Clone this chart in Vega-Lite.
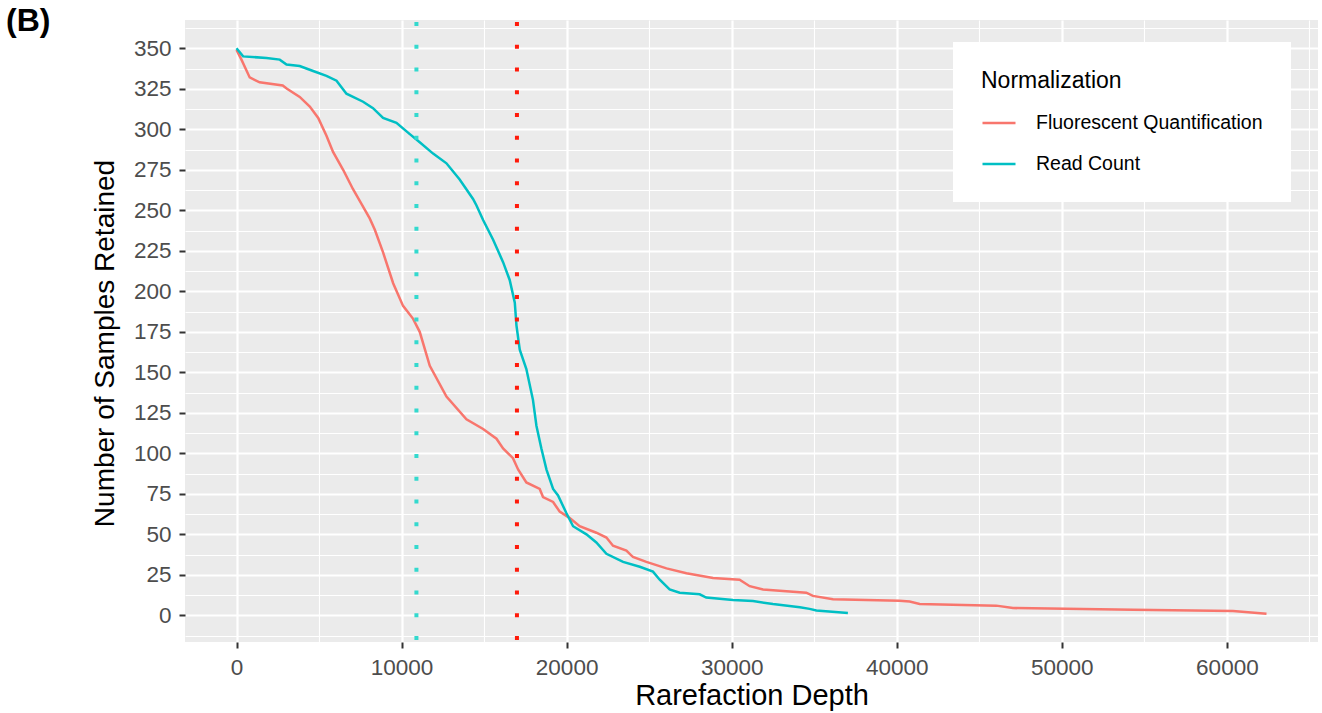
{
  "$schema": "https://vega.github.io/schema/vega-lite/v6.json",
  "width": 1133,
  "height": 622,
  "autosize": {"type": "none"},
  "padding": {"left": 185, "top": 20, "right": 4, "bottom": 71},
  "background": "white",
  "config": {
    "font": "Liberation Sans",
    "view": {"fill": "#EBEBEB", "stroke": null}
  },
  "title": {
    "text": "(B)",
    "anchor": "start",
    "frame": "group",
    "fontSize": 32,
    "fontWeight": "bold",
    "color": "black",
    "offset": -46,
    "dx": -179,
    "baseline": "alphabetic"
  },
  "encoding": {
    "x": {
      "field": "depth",
      "type": "quantitative",
      "title": "Rarefaction Depth",
      "scale": {"domain": [-3120, 65520], "nice": false, "zero": false},
      "axis": {
        "values": [0, 5000, 10000, 15000, 20000, 25000, 30000, 35000, 40000, 45000, 50000, 55000, 60000, 65000],
        "format": "d",
        "labelExpr": "datum.value % 10000 === 0 ? datum.label : ''",
        "labelOverlap": false,
        "labelFlush": false,
        "labelFontSize": 22.5,
        "labelColor": "#4D4D4D",
        "labelPadding": 8,
        "domain": false,
        "grid": true,
        "gridColor": "white",
        "gridOpacity": 1,
        "gridWidth": {"condition": {"test": "datum.value % 10000 === 0", "value": 2.2}, "value": 1.1},
        "ticks": true,
        "tickColor": "#333333",
        "tickWidth": 2,
        "tickSize": 6,
        "tickOpacity": {"condition": {"test": "datum.value % 10000 === 0", "value": 1}, "value": 0},
        "titleFontSize": 29,
        "titleFontWeight": "normal",
        "titleColor": "black",
        "titleBaseline": "alphabetic",
        "titleY": 62
      }
    }
  },
  "layer": [
    {
      "data": {
        "values": [
          {"depth": 0, "retained": 349, "Normalization": "Fluorescent Quantification"},
          {"depth": 300, "retained": 343, "Normalization": "Fluorescent Quantification"},
          {"depth": 800, "retained": 332, "Normalization": "Fluorescent Quantification"},
          {"depth": 1400, "retained": 329, "Normalization": "Fluorescent Quantification"},
          {"depth": 2800, "retained": 327, "Normalization": "Fluorescent Quantification"},
          {"depth": 3060, "retained": 325, "Normalization": "Fluorescent Quantification"},
          {"depth": 3830, "retained": 320, "Normalization": "Fluorescent Quantification"},
          {"depth": 4440, "retained": 314, "Normalization": "Fluorescent Quantification"},
          {"depth": 4950, "retained": 307, "Normalization": "Fluorescent Quantification"},
          {"depth": 5450, "retained": 296, "Normalization": "Fluorescent Quantification"},
          {"depth": 5850, "retained": 286, "Normalization": "Fluorescent Quantification"},
          {"depth": 6460, "retained": 275, "Normalization": "Fluorescent Quantification"},
          {"depth": 7060, "retained": 263, "Normalization": "Fluorescent Quantification"},
          {"depth": 7570, "retained": 254, "Normalization": "Fluorescent Quantification"},
          {"depth": 8070, "retained": 245, "Normalization": "Fluorescent Quantification"},
          {"depth": 8380, "retained": 238, "Normalization": "Fluorescent Quantification"},
          {"depth": 8880, "retained": 224, "Normalization": "Fluorescent Quantification"},
          {"depth": 9490, "retained": 205, "Normalization": "Fluorescent Quantification"},
          {"depth": 10090, "retained": 191, "Normalization": "Fluorescent Quantification"},
          {"depth": 10700, "retained": 183, "Normalization": "Fluorescent Quantification"},
          {"depth": 11100, "retained": 175, "Normalization": "Fluorescent Quantification"},
          {"depth": 11710, "retained": 154, "Normalization": "Fluorescent Quantification"},
          {"depth": 12720, "retained": 135, "Normalization": "Fluorescent Quantification"},
          {"depth": 13930, "retained": 121, "Normalization": "Fluorescent Quantification"},
          {"depth": 14940, "retained": 115, "Normalization": "Fluorescent Quantification"},
          {"depth": 15750, "retained": 109, "Normalization": "Fluorescent Quantification"},
          {"depth": 16150, "retained": 103, "Normalization": "Fluorescent Quantification"},
          {"depth": 16750, "retained": 97, "Normalization": "Fluorescent Quantification"},
          {"depth": 17060, "retained": 90, "Normalization": "Fluorescent Quantification"},
          {"depth": 17560, "retained": 82, "Normalization": "Fluorescent Quantification"},
          {"depth": 18370, "retained": 78, "Normalization": "Fluorescent Quantification"},
          {"depth": 18570, "retained": 73, "Normalization": "Fluorescent Quantification"},
          {"depth": 19180, "retained": 70, "Normalization": "Fluorescent Quantification"},
          {"depth": 19580, "retained": 64, "Normalization": "Fluorescent Quantification"},
          {"depth": 20190, "retained": 60, "Normalization": "Fluorescent Quantification"},
          {"depth": 20790, "retained": 55, "Normalization": "Fluorescent Quantification"},
          {"depth": 21800, "retained": 51, "Normalization": "Fluorescent Quantification"},
          {"depth": 22410, "retained": 48, "Normalization": "Fluorescent Quantification"},
          {"depth": 22810, "retained": 43, "Normalization": "Fluorescent Quantification"},
          {"depth": 23620, "retained": 40, "Normalization": "Fluorescent Quantification"},
          {"depth": 24020, "retained": 36, "Normalization": "Fluorescent Quantification"},
          {"depth": 24830, "retained": 33, "Normalization": "Fluorescent Quantification"},
          {"depth": 26050, "retained": 29, "Normalization": "Fluorescent Quantification"},
          {"depth": 27260, "retained": 26, "Normalization": "Fluorescent Quantification"},
          {"depth": 28870, "retained": 23, "Normalization": "Fluorescent Quantification"},
          {"depth": 30480, "retained": 22, "Normalization": "Fluorescent Quantification"},
          {"depth": 31090, "retained": 18, "Normalization": "Fluorescent Quantification"},
          {"depth": 31900, "retained": 16, "Normalization": "Fluorescent Quantification"},
          {"depth": 34520, "retained": 14, "Normalization": "Fluorescent Quantification"},
          {"depth": 34920, "retained": 12, "Normalization": "Fluorescent Quantification"},
          {"depth": 36140, "retained": 10, "Normalization": "Fluorescent Quantification"},
          {"depth": 40170, "retained": 9, "Normalization": "Fluorescent Quantification"},
          {"depth": 40780, "retained": 8.5, "Normalization": "Fluorescent Quantification"},
          {"depth": 41390, "retained": 7, "Normalization": "Fluorescent Quantification"},
          {"depth": 46030, "retained": 6, "Normalization": "Fluorescent Quantification"},
          {"depth": 47040, "retained": 4.5, "Normalization": "Fluorescent Quantification"},
          {"depth": 54310, "retained": 3.5, "Normalization": "Fluorescent Quantification"},
          {"depth": 60370, "retained": 2.7, "Normalization": "Fluorescent Quantification"},
          {"depth": 62400, "retained": 1, "Normalization": "Fluorescent Quantification"},
          {"depth": 0, "retained": 350, "Normalization": "Read Count"},
          {"depth": 400, "retained": 345, "Normalization": "Read Count"},
          {"depth": 1820, "retained": 344, "Normalization": "Read Count"},
          {"depth": 2620, "retained": 343, "Normalization": "Read Count"},
          {"depth": 3030, "retained": 340, "Normalization": "Read Count"},
          {"depth": 3830, "retained": 339, "Normalization": "Read Count"},
          {"depth": 4640, "retained": 336, "Normalization": "Read Count"},
          {"depth": 5450, "retained": 333, "Normalization": "Read Count"},
          {"depth": 6060, "retained": 330, "Normalization": "Read Count"},
          {"depth": 6660, "retained": 322, "Normalization": "Read Count"},
          {"depth": 7670, "retained": 317, "Normalization": "Read Count"},
          {"depth": 8270, "retained": 313, "Normalization": "Read Count"},
          {"depth": 8880, "retained": 307, "Normalization": "Read Count"},
          {"depth": 9690, "retained": 304, "Normalization": "Read Count"},
          {"depth": 10500, "retained": 297, "Normalization": "Read Count"},
          {"depth": 11100, "retained": 292, "Normalization": "Read Count"},
          {"depth": 11910, "retained": 285, "Normalization": "Read Count"},
          {"depth": 12720, "retained": 279, "Normalization": "Read Count"},
          {"depth": 13520, "retained": 269, "Normalization": "Read Count"},
          {"depth": 14330, "retained": 257, "Normalization": "Read Count"},
          {"depth": 14540, "retained": 253, "Normalization": "Read Count"},
          {"depth": 14940, "retained": 244, "Normalization": "Read Count"},
          {"depth": 15540, "retained": 232, "Normalization": "Read Count"},
          {"depth": 16150, "retained": 218, "Normalization": "Read Count"},
          {"depth": 16550, "retained": 207, "Normalization": "Read Count"},
          {"depth": 16860, "retained": 193, "Normalization": "Read Count"},
          {"depth": 16960, "retained": 179, "Normalization": "Read Count"},
          {"depth": 17160, "retained": 164, "Normalization": "Read Count"},
          {"depth": 17560, "retained": 152, "Normalization": "Read Count"},
          {"depth": 17960, "retained": 133, "Normalization": "Read Count"},
          {"depth": 18170, "retained": 117, "Normalization": "Read Count"},
          {"depth": 18470, "retained": 103, "Normalization": "Read Count"},
          {"depth": 18780, "retained": 90, "Normalization": "Read Count"},
          {"depth": 19180, "retained": 78, "Normalization": "Read Count"},
          {"depth": 19480, "retained": 74, "Normalization": "Read Count"},
          {"depth": 19990, "retained": 63, "Normalization": "Read Count"},
          {"depth": 20390, "retained": 55, "Normalization": "Read Count"},
          {"depth": 21200, "retained": 50, "Normalization": "Read Count"},
          {"depth": 21800, "retained": 45, "Normalization": "Read Count"},
          {"depth": 22410, "retained": 38, "Normalization": "Read Count"},
          {"depth": 23420, "retained": 33, "Normalization": "Read Count"},
          {"depth": 24430, "retained": 30, "Normalization": "Read Count"},
          {"depth": 25230, "retained": 27, "Normalization": "Read Count"},
          {"depth": 25640, "retained": 22, "Normalization": "Read Count"},
          {"depth": 26240, "retained": 16, "Normalization": "Read Count"},
          {"depth": 26850, "retained": 14, "Normalization": "Read Count"},
          {"depth": 28060, "retained": 13, "Normalization": "Read Count"},
          {"depth": 28460, "retained": 11, "Normalization": "Read Count"},
          {"depth": 30080, "retained": 9.5, "Normalization": "Read Count"},
          {"depth": 31290, "retained": 8.8, "Normalization": "Read Count"},
          {"depth": 32500, "retained": 7, "Normalization": "Read Count"},
          {"depth": 34130, "retained": 5, "Normalization": "Read Count"},
          {"depth": 34720, "retained": 4, "Normalization": "Read Count"},
          {"depth": 35130, "retained": 3, "Normalization": "Read Count"},
          {"depth": 37040, "retained": 1.5, "Normalization": "Read Count"}
        ]
      },
      "mark": {"type": "line", "strokeWidth": 2.5, "interpolate": "linear"},
      "encoding": {
        "y": {
          "field": "retained",
          "type": "quantitative",
          "title": "Number of Samples Retained",
          "scale": {"domain": [-16.45, 367.45], "nice": false, "zero": false},
          "axis": {
            "values": [-12.5, 0, 12.5, 25, 37.5, 50, 62.5, 75, 87.5, 100, 112.5, 125, 137.5, 150, 162.5, 175, 187.5, 200, 212.5, 225, 237.5, 250, 262.5, 275, 287.5, 300, 312.5, 325, 337.5, 350, 362.5],
            "format": "d",
            "labelExpr": "datum.value % 25 === 0 ? datum.label : ''",
            "labelOverlap": false,
            "labelFlush": false,
            "labelFontSize": 22.5,
            "labelColor": "#4D4D4D",
            "labelPadding": 8,
            "domain": false,
            "grid": true,
            "gridColor": "white",
            "gridOpacity": 1,
            "gridWidth": {"condition": {"test": "datum.value % 25 === 0", "value": 2.2}, "value": 1.1},
            "ticks": true,
            "tickColor": "#333333",
            "tickWidth": 2,
            "tickSize": 6,
            "tickOpacity": {"condition": {"test": "datum.value % 25 === 0", "value": 1}, "value": 0},
            "titleFontSize": 28,
            "titleFontWeight": "normal",
            "titleColor": "black",
            "titleBaseline": "alphabetic",
            "titleAlign": "center",
            "titleX": -72,
            "titleY": 323
          }
        },
        "color": {
          "field": "Normalization",
          "type": "nominal",
          "scale": {"domain": ["Fluorescent Quantification", "Read Count"], "range": ["#F8766D", "#00BFC4"]},
          "legend": {
            "orient": "none",
            "legendX": 768,
            "legendY": 22,
            "fillColor": "white",
            "padding": 28,
            "title": "Normalization",
            "titleFontSize": 23,
            "titleFontWeight": "normal",
            "titleColor": "black",
            "titlePadding": 12,
            "labelFontSize": 19.5,
            "labelColor": "black",
            "labelOffset": 19,
            "labelLimit": 400,
            "symbolType": "stroke",
            "symbolSize": 1089,
            "symbolStrokeWidth": 2.5,
            "rowPadding": 13
          }
        }
      }
    },
    {
      "data": {
        "values": [
          {"depth": 10900, "threshold": "Read Count"},
          {"depth": 16990, "threshold": "Fluorescent Quantification"}
        ]
      },
      "mark": {"type": "rule", "strokeWidth": 4, "strokeDash": [4, 18.74], "strokeDashOffset": 20.74, "strokeCap": "butt"},
      "encoding": {
        "color": {
          "field": "threshold",
          "type": "nominal",
          "scale": {"domain": ["Read Count", "Fluorescent Quantification"], "range": ["#33D9CE", "#FF1A0A"]},
          "legend": null
        }
      }
    }
  ],
  "resolve": {"scale": {"color": "independent"}}
}
